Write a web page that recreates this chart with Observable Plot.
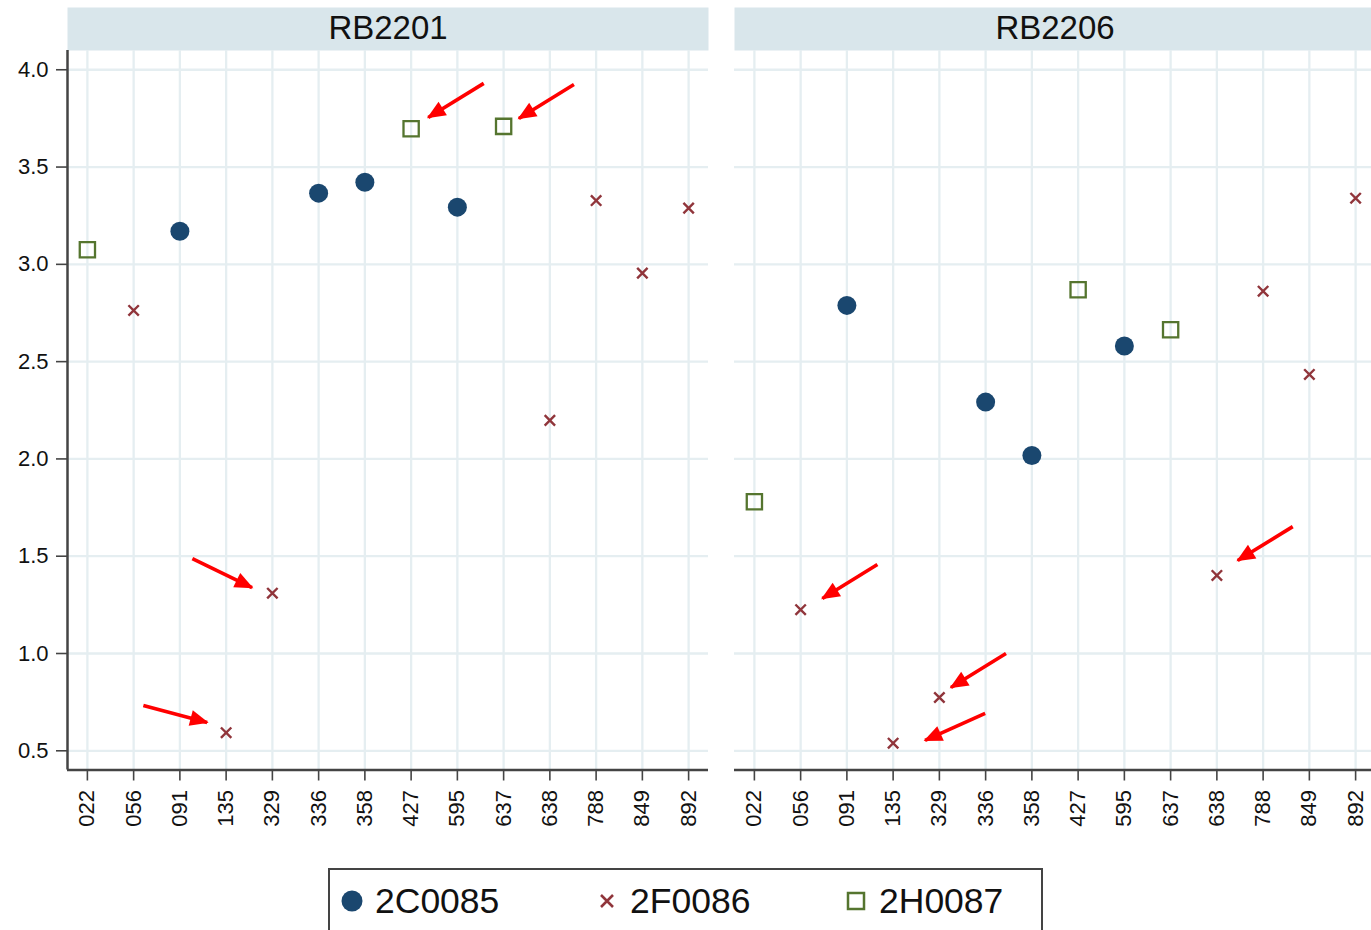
<!DOCTYPE html>
<html>
<head>
<meta charset="utf-8">
<script src="https://cdn.jsdelivr.net/npm/d3@7"></script>
<script src="https://cdn.jsdelivr.net/npm/@observablehq/plot@0.6"></script>
<style>
  html, body { margin: 0; padding: 0; overflow: hidden; background: white; }
  #chart svg { max-width: none !important; display: block; }
  #wrap { position: relative; width: 1376px; height: 930px; }
  #legend { position: absolute; left: 328px; top: 868px; width: 715px; height: 80px;
            box-sizing: border-box; border: 2px solid #444; background: white; }
</style>
</head>
<body>
<div id="wrap">
  <div id="chart"></div>
  <div id="legend"></div>
</div>
<script>
// ---- data ----
const codes = ["022","056","091","135","329","336","358","427","595","637","638","788","849","892"];
const panels = ["RB2201","RB2206"];
const series = ["2C0085","2F0086","2H0087"];
const seriesColors = ["#1a476f","#90353b","#55752f"];

const c0085_codes = ["091","336","358","595"];
const c0085_RB2201 = [3.170, 3.366, 3.422, 3.294];
const c0085_RB2206 = [2.789, 2.292, 2.018, 2.580];

const f0086_codes = ["056","135","329","638","788","849","892"];
const f0086_RB2201 = [2.763, 0.593, 1.310, 2.198, 3.328, 2.955, 3.289];
const f0086_RB2206 = [1.225, 0.539, 0.774, 1.401, 2.862, 2.434, 3.340];

const h0087_codes = ["022","427","637"];
const h0087_RB2201 = [3.075, 3.697, 3.709];
const h0087_RB2206 = [1.780, 2.869, 2.664];

const yTicks = [0.5, 1.0, 1.5, 2.0, 2.5, 3.0, 3.5, 4.0];

// annotation arrows (tail -> head) in data units: x as category index, y as value
const arrowPanel = ["RB2201","RB2201","RB2201","RB2201","RB2206","RB2206","RB2206","RB2206"];
const arrowX1 = [8.57, 10.52, 2.27, 1.21, 2.66, 5.44, 4.99, 11.64];
const arrowY1 = [3.930, 3.924, 1.488, 0.733, 1.457, 1.000, 0.692, 1.652];
const arrowX2 = [7.37, 9.33, 3.56, 2.59, 1.47, 4.25, 3.69, 10.45];
const arrowY2 = [3.755, 3.750, 1.339, 0.646, 1.283, 0.825, 0.553, 1.478];

// ---- build tables ----
function rows(codeList, vals, panel) {
  return codeList.map((c, i) => ({panel, code: c, xi: codes.indexOf(c), v: vals[i]}));
}
const dataC = [...rows(c0085_codes, c0085_RB2201, "RB2201"), ...rows(c0085_codes, c0085_RB2206, "RB2206")];
const dataF = [...rows(f0086_codes, f0086_RB2201, "RB2201"), ...rows(f0086_codes, f0086_RB2206, "RB2206")];
const dataH = [...rows(h0087_codes, h0087_RB2201, "RB2201"), ...rows(h0087_codes, h0087_RB2206, "RB2206")];
const arrows = arrowPanel.map((p, i) => ({panel: p, x1: arrowX1[i], y1: arrowY1[i], x2: arrowX2[i], y2: arrowY2[i]}));

const xDomain = [-0.43, codes.length - 1 + 0.43];
const yDomain = [0.4013, 4.099];

function filledHead(color, context) {
  const doc = (context && context.document) || document;
  const ns = "http://www.w3.org/2000/svg";
  const m = doc.createElementNS(ns, "marker");
  m.setAttribute("viewBox", "-18 -9 20 18");
  m.setAttribute("markerWidth", "20");
  m.setAttribute("markerHeight", "18");
  m.setAttribute("markerUnits", "userSpaceOnUse");
  m.setAttribute("orient", "auto");
  m.setAttribute("refX", "0");
  m.setAttribute("refY", "0");
  const p = doc.createElementNS(ns, "path");
  p.setAttribute("d", "M-17,-8L1.5,0L-17,8Z");
  p.setAttribute("fill", color);
  p.setAttribute("stroke", "none");
  m.appendChild(p);
  return m;
}

const font = "'Liberation Sans', Arimo, Arial, sans-serif";
const gridColor = "#e5eef1";
const axisColor = "#444";

const chart = Plot.plot({
  width: 1376,
  height: 845,
  marginLeft: 66,
  marginRight: 0,
  marginTop: 50,
  marginBottom: 75.5,
  style: {fontFamily: font, background: "white", maxWidth: "none", overflow: "visible", color: "#000"},
  fx: {domain: panels, paddingInner: 0.0389, paddingOuter: 0, axis: null},
  x: {domain: xDomain, axis: null},
  y: {domain: yDomain, axis: null},
  marks: [
    Plot.frame({fill: "#d9e6eb", stroke: null, insetTop: -43, insetBottom: 719.5}),
    Plot.gridY({ticks: yTicks, stroke: gridColor, strokeOpacity: 1, strokeWidth: 2.3}),
    Plot.gridX({ticks: d3.range(codes.length), stroke: gridColor, strokeOpacity: 1, strokeWidth: 2.3}),
    Plot.text(panels, {fx: d => d, text: d => d, frameAnchor: "top", lineAnchor: "middle", dy: -22, fontSize: 33, fill: "#111"}),
    Plot.axisY({ticks: yTicks, tickFormat: d3.format(".1f"), anchor: "left", tickSize: 11, tickPadding: 8,
                fontSize: 22, stroke: axisColor, strokeWidth: 1.6, fill: "#111"}),
    Plot.axisX({ticks: d3.range(codes.length), tickFormat: i => codes[i], anchor: "bottom", tickRotate: -90,
                tickSize: 11, tickPadding: 9, fontSize: 22, stroke: axisColor, strokeWidth: 1.6, fill: "#111"}),
    Plot.ruleY([yDomain[0]], {stroke: axisColor, strokeWidth: 2.5}),
    Plot.ruleX([{panel: "RB2201", x: xDomain[0]}], {fx: "panel", x: "x", stroke: axisColor, strokeWidth: 2.5}),
    Plot.dot(dataC, {fx: "panel", x: "xi", y: "v", r: 9.5, fill: seriesColors[0], stroke: "none"}),
    Plot.dot(dataF, {fx: "panel", x: "xi", y: "v", symbol: "times", r: 4.8, stroke: seriesColors[1], strokeWidth: 2.4}),
    Plot.dot(dataH, {fx: "panel", x: "xi", y: "v", symbol: "square", r: 8.6, fill: "none", stroke: seriesColors[2], strokeWidth: 2.3}),
    Plot.link(arrows, {fx: "panel", x1: "x1", y1: "y1", x2: "x2", y2: "y2", stroke: "#ff0000", strokeWidth: 3.6, markerEnd: filledHead})
  ]
});
document.getElementById("chart").appendChild(chart);

// ---- legend ----
const symX = [22, 277, 526];
const txtX = [45, 300, 549];
const ns = "http://www.w3.org/2000/svg";
const lsvg = document.createElementNS(ns, "svg");
lsvg.setAttribute("width", "711");
lsvg.setAttribute("height", "78");
lsvg.style.display = "block";
series.forEach((s, i) => {
  let el;
  if (i === 0) {
    el = document.createElementNS(ns, "circle");
    el.setAttribute("cx", symX[i]); el.setAttribute("cy", 31); el.setAttribute("r", 10.5);
    el.setAttribute("fill", seriesColors[i]);
  } else if (i === 1) {
    el = document.createElementNS(ns, "path");
    const cx = symX[i], cy = 31, h = 6;
    el.setAttribute("d", `M${cx-h},${cy-h}L${cx+h},${cy+h}M${cx-h},${cy+h}L${cx+h},${cy-h}`);
    el.setAttribute("stroke", seriesColors[i]); el.setAttribute("stroke-width", 2.6); el.setAttribute("fill", "none");
  } else {
    el = document.createElementNS(ns, "rect");
    el.setAttribute("x", symX[i] - 8); el.setAttribute("y", 31 - 8); el.setAttribute("width", 16); el.setAttribute("height", 16);
    el.setAttribute("stroke", seriesColors[i]); el.setAttribute("stroke-width", 2.5); el.setAttribute("fill", "none");
  }
  lsvg.appendChild(el);
  const t = document.createElementNS(ns, "text");
  t.setAttribute("x", txtX[i]); t.setAttribute("y", 43);
  t.setAttribute("font-family", font); t.setAttribute("font-size", 35.5); t.setAttribute("fill", "#111");
  t.textContent = s;
  lsvg.appendChild(t);
});
document.getElementById("legend").appendChild(lsvg);
</script>
</body>
</html>
